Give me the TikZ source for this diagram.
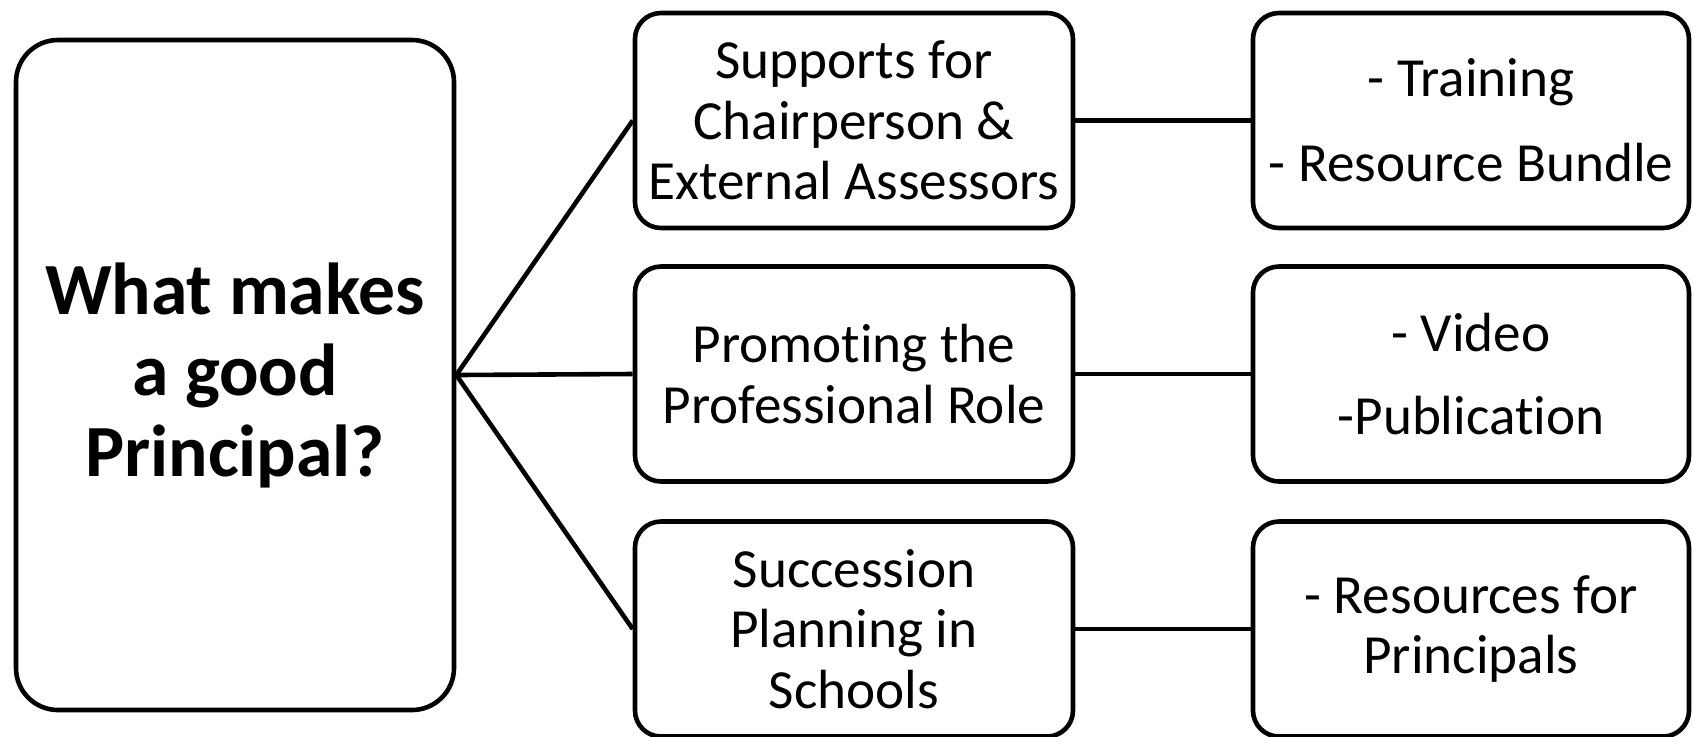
\documentclass[tikz,border=0pt]{standalone}
\usepackage{fontspec}
\setmainfont{Carlito}[Ligatures=NoCommon]
\begin{document}
\begin{tikzpicture}[x=0.5pt,y=-0.5pt,
  bigbox/.style={draw,line width=2.3pt,rounded corners=21pt,minimum width=219pt,minimum height=335pt,align=center,inner sep=0pt,font=\bfseries\fontsize{36.8pt}{40.5pt}\selectfont},
  itembox/.style={draw,line width=2.3pt,rounded corners=13pt,minimum width=219pt,minimum height=107.5pt,align=center,inner sep=0pt,font=\fontsize{27.6pt}{30.2pt}\selectfont},
  link/.style={line width=2.3pt}]
\useasboundingbox (0,0) rectangle (1694,736);
\coordinate (Q) at (235,375);
\coordinate (S1) at (854,120.5);
\coordinate (S2) at (854,374);
\coordinate (S3) at (854,629);
\coordinate (T1) at (1471,120.5);
\coordinate (T2) at (1471,374);
\coordinate (T3) at (1471,629);
\node[bigbox] (question) at (Q) {What makes\\a good\\Principal?};
\node[itembox] (supports) at (S1) {Supports for\\Chairperson \&\\External Assessors};
\node[itembox] (promoting) at (S2) {Promoting the\\Professional Role};
\node[itembox] (succession) at (S3) {Succession\\Planning in\\Schools};
\node[itembox,minimum width=218pt] (training) at (T1) {- Training\\[12.5pt]- Resource Bundle};
\node[itembox,minimum width=218pt] (video) at (T2) {- Video\\[11.5pt]-Publication};
\node[itembox,minimum width=218pt] (resources) at (T3) {- Resources for\\Principals};
\draw [link] (question.east) -- (supports.west);
\draw [link] (question.east) -- (promoting.west);
\draw [link] (question.east) -- (succession.west);
\draw [link] (supports) -- (training);
\draw [link] (promoting) -- (video);
\draw [link] (succession) -- (resources);
\end{tikzpicture}
\end{document}
